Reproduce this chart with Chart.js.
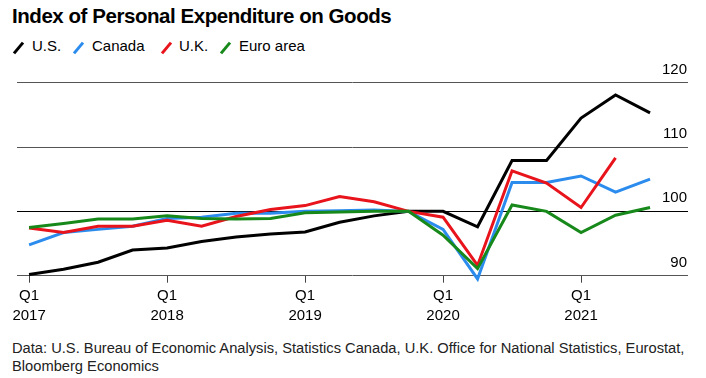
<!DOCTYPE html>
<html><head><meta charset="utf-8">
<script src="https://cdn.jsdelivr.net/npm/chart.js@4"></script>
<style>
html,body{margin:0;padding:0;background:#fff;}
body{width:706px;height:378px;position:relative;overflow:hidden;font-family:"Liberation Sans",Arial,Helvetica,sans-serif;color:#000;}
#title{position:absolute;left:12px;top:4px;font-size:20.5px;letter-spacing:-0.45px;font-weight:bold;white-space:nowrap;}
.leg{position:absolute;top:37px;font-size:15px;white-space:nowrap;}
.ico{position:absolute;top:41px;width:3px;height:14px;transform:rotate(40deg);}
#note{position:absolute;left:12px;top:339px;font-size:14.7px;line-height:18px;color:#222;white-space:nowrap;}
#cv{position:absolute;left:0;top:0;}
</style></head>
<body>
<div id="title">Index of Personal Expenditure on Goods</div>
<span class="ico" style="left:17px;background:#000"></span><span class="leg" style="left:32px">U.S.</span>
<span class="ico" style="left:77px;background:#2b8cee"></span><span class="leg" style="left:92px">Canada</span>
<span class="ico" style="left:165px;background:#e8131b"></span><span class="leg" style="left:179px">U.K.</span>
<span class="ico" style="left:224px;background:#17891b"></span><span class="leg" style="left:239px">Euro area</span>
<div id="note">Data: U.S. Bureau of Economic Analysis, Statistics Canada, U.K. Office for National Statistics, Eurostat,<br>Bloomberg Economics</div>
<canvas id="cv" width="706" height="378"></canvas>
<script>
const quarters = ['2017 Q1','2017 Q2','2017 Q3','2017 Q4','2018 Q1','2018 Q2','2018 Q3','2018 Q4','2019 Q1','2019 Q2','2019 Q3','2019 Q4','2020 Q1','2020 Q2','2020 Q3','2020 Q4','2021 Q1','2021 Q2','2021 Q3'];
const us     = [90.2, 91.0, 92.1, 94.0, 94.3, 95.3, 96.0, 96.5, 96.8, 98.3, 99.3, 100, 100, 97.6, 107.9, 107.9, 114.5, 118.1, 115.3];
const canada = [94.8, 96.7, 97.2, 97.7, 98.9, 99.1, 99.7, 99.7, 100, 100.1, 100.2, 100, 97.2, 89.5, 104.5, 104.5, 105.5, 103.0, 105.0];
const uk     = [97.4, 96.7, 97.7, 97.7, 98.6, 97.7, 99.2, 100.3, 100.9, 102.3, 101.5, 100, 99.1, 91.6, 106.3, 104.4, 100.6, 108.3, null];
const euro   = [97.5, 98.1, 98.8, 98.8, 99.3, 98.9, 98.8, 98.9, 99.8, 99.9, 100.0, 100, 96.3, 91.1, 101.0, 100.0, 96.7, 99.4, 100.6];
const yTicks = [90, 100, 110, 120];
const xTickIdx = [0, 4, 8, 12, 16];

const pts = arr => arr.map((v, i) => ({x: i, y: v}));
const mk = (label, arr, color, order) => ({label, data: pts(arr), borderColor: color, backgroundColor: color,
  borderWidth: 3, pointRadius: 0, tension: 0, clip: false, spanGaps: false, order});

const yLabelPlugin = {
  id: 'yLabels',
  afterDraw(chart) {
    const ctx = chart.ctx, y = chart.scales.y, area = chart.chartArea;
    ctx.save();
    ctx.font = '15px "Liberation Sans", Arial, sans-serif';
    ctx.fillStyle = '#000';
    ctx.textAlign = 'right';
    ctx.textBaseline = 'alphabetic';
    yTicks.forEach(v => ctx.fillText(String(v), area.right - 1, y.getPixelForValue(v) - 9));
    ctx.restore();
  }
};

new Chart(document.getElementById('cv'), {
  type: 'line',
  data: { datasets: [mk('U.S.', us, '#000000', 4), mk('Canada', canada, '#2b8cee', 3), mk('U.K.', uk, '#e8131b', 2), mk('Euro area', euro, '#17891b', 1)] },
  options: {
    responsive: false, animation: false, devicePixelRatio: 1,
    layout: { padding: { left: 17, right: 18, top: 82.7, bottom: 47 } },
    plugins: { legend: { display: false }, tooltip: { enabled: false }, title: { display: false } },
    scales: {
      x: {
        type: 'linear', min: -0.35, max: 19.1,
        afterBuildTicks: s => { s.ticks = xTickIdx.map(v => ({value: v})); },
        afterFit: s => { s.height = 55.3; },
        border: { display: false },
        grid: { drawOnChartArea: false, drawTicks: true, tickLength: 7, color: '#444', lineWidth: 1 },
        ticks: { autoSkip: false, maxRotation: 0, padding: 3, color: '#000',
          font: { family: '"Liberation Sans", Arial, sans-serif', size: 15, lineHeight: 1.35 },
          callback: v => { const q = quarters[v]; if (!q) return ''; const p = q.split(' '); return [p[1], p[0]]; } }
      },
      y: {
        min: 90, max: 120,
        afterBuildTicks: s => { s.ticks = yTicks.map(v => ({value: v})); },
        afterFit: s => { s.width = 0; },
        border: { display: false },
        grid: { drawTicks: false, lineWidth: 1, color: c => c.tick && c.tick.value === 100 ? '#000' : '#555' },
        ticks: { display: false }
      }
    }
  },
  plugins: [yLabelPlugin]
});
</script>
</body></html>
